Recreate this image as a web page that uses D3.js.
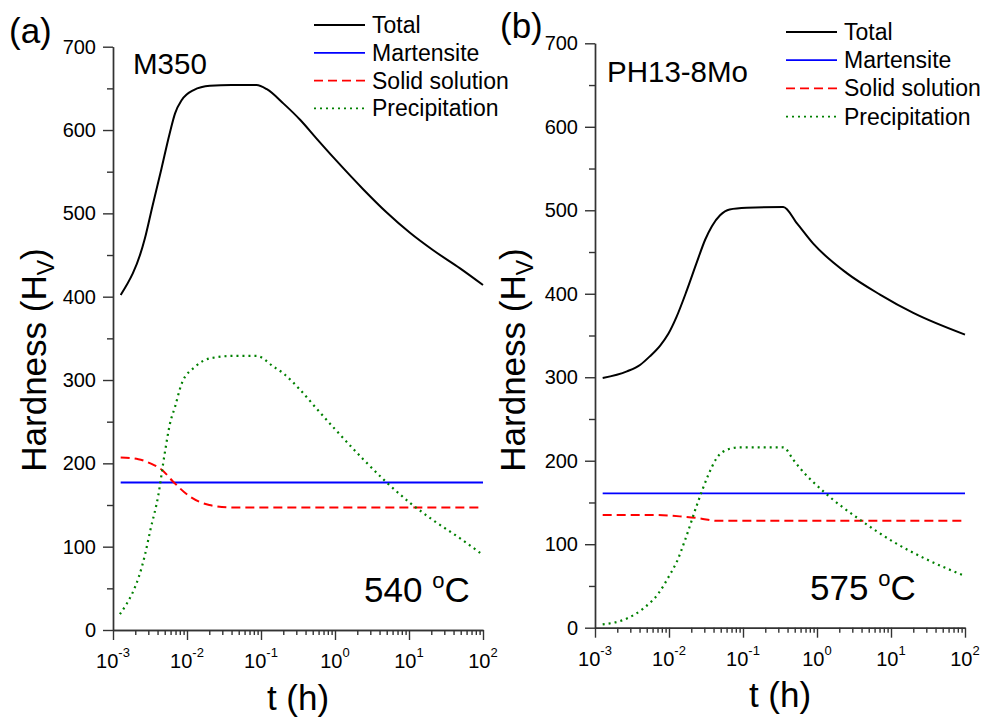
<!DOCTYPE html>
<html>
<head>
<meta charset="utf-8">
<script src="https://cdn.jsdelivr.net/npm/d3@7"></script>
<style>
  body { margin: 0; background: #fff; }
  svg text { font-family: "Liberation Sans", Arial, sans-serif; fill: #000; }
</style>
</head>
<body>
<div id="chart"></div>
<script>
// ---- data (t in hours, hardness in HV) ----
const xDecades = [1e-3, 1e-2, 1e-1, 1e0, 1e1, 1e2];
const xExponents = ["-3", "-2", "-1", "0", "1", "2"];
const yTicks = [0, 100, 200, 300, 400, 500, 600, 700];
const yMinor = [50, 150, 250, 350, 450, 550, 650];
const seriesNames = ["Total", "Martensite", "Solid solution", "Precipitation"];

// panel (a) M350, 540 C
const aTotalT = [0.00127, 0.0027, 0.0034, 0.0045, 0.0058, 0.0069, 0.0085, 0.0123, 0.0204, 0.04, 0.087, 0.12, 0.2, 0.34, 0.56, 1.0, 2.4, 5.0, 10.2, 21, 49, 100];
const aTotalH = [402, 470, 508, 553, 595, 620, 636, 648, 653, 654, 654, 649, 632, 612, 590, 565, 529, 501, 477, 456, 434, 414];
const aMartT = [0.00127, 100];
const aMartH = [177, 177];
const aSolT = [0.00127, 0.0022, 0.0032, 0.0046, 0.0065, 0.011, 0.02, 0.04, 100];
const aSolH = [207, 205, 200, 192, 178, 160, 150, 147, 147];
const aPrecT = [0.00124, 0.0027, 0.0032, 0.0041, 0.005, 0.0059, 0.0069, 0.0085, 0.0129, 0.0204, 0.0427, 0.087, 0.148, 0.2, 0.34, 0.56, 1.0, 2.4, 5.0, 10.2, 21, 49, 100];
const aPrecH = [19, 90, 120, 162, 212, 248, 268, 296, 316, 326, 329, 329, 316, 308, 288, 266, 241, 205, 177, 153, 132, 110, 90];

// panel (b) PH13-8Mo, 575 C
const bTotalT = [0.00127, 0.0027, 0.0041, 0.0055, 0.0076, 0.0098, 0.0126, 0.0174, 0.0234, 0.0309, 0.038, 0.049, 0.066, 0.112, 0.35, 0.54, 0.89, 2.5, 7.1, 20, 100];
const bTotalH = [299, 307, 315, 325, 338, 352, 372, 404, 436, 465, 481, 494, 501, 503, 504, 484, 460, 425, 399, 377, 351];
const bMartT = [0.00127, 100];
const bMartH = [161, 161];
const bSolT = [0.00127, 0.0068, 0.0155, 0.026, 0.044, 100];
const bSolH = [135, 135, 133, 131, 128, 128];
const bPrecT = [0.00127, 0.0027, 0.0045, 0.0072, 0.0102, 0.0126, 0.0174, 0.0234, 0.034, 0.044, 0.06, 0.089, 0.35, 0.48, 0.59, 1.23, 4.0, 10.7, 30, 100];
const bPrecH = [4, 11, 23, 41, 63, 78, 111, 145, 183, 203, 213, 216, 216, 201, 191, 163, 128, 103, 82, 62];

const w = 987, h = 721;
const svg = d3.select("#chart").append("svg").attr("width", w).attr("height", h);

const styles = [
  { color: "#000000", width: 2, dash: null },
  { color: "#0000ff", width: 1.8, dash: null },
  { color: "#ff0000", width: 2, dash: "9,5" },
  { color: "#008000", width: 2.2, dash: "2,4" }
];

const minorTicks = [];
xDecades.slice(0, -1).forEach(d => { for (let k = 2; k <= 9; k++) minorTicks.push(d * k); });

function zip(ts, hs) { return ts.map((t, i) => ({ t: t, v: hs[i] })); }

function drawPanel(p) {
  const x = d3.scaleLog().domain([1e-3, 1e2]).range([p.x0, p.x1]);
  const y = d3.scaleLinear().domain([0, 700]).range([p.y0, p.y1]);
  const g = svg.append("g");

  g.append("g").attr("transform", "translate(0," + p.y0 + ")")
    .call(d3.axisBottom(x).tickValues(xDecades).tickSize(10).tickSizeOuter(0).tickFormat(""));
  g.append("g").attr("transform", "translate(0," + p.y0 + ")")
    .call(d3.axisBottom(x).tickValues(minorTicks).tickSize(5).tickSizeOuter(0).tickFormat(""));
  g.append("g").attr("transform", "translate(" + p.x0 + ",0)")
    .call(d3.axisLeft(y).tickValues(yTicks).tickSize(10).tickSizeOuter(0).tickPadding(7))
    .selectAll("text").style("font-size", "20px");
  g.append("g").attr("transform", "translate(" + p.x0 + ",0)")
    .call(d3.axisLeft(y).tickValues(yMinor).tickSize(6).tickSizeOuter(0).tickFormat(""));
  g.selectAll(".domain, .tick line").attr("stroke", "#333").attr("stroke-width", 1.4);

  // x tick labels 10^n
  xDecades.forEach((d, i) => {
    const t = g.append("text").attr("x", x(d)).attr("y", p.y0 + 38)
      .attr("text-anchor", "middle").style("font-size", "20px");
    t.append("tspan").text("10");
    t.append("tspan").attr("dy", -11).style("font-size", "13px").text(xExponents[i]);
  });

  const line = d3.line().x(d => x(d.t)).y(d => y(d.v)).curve(d3.curveMonotoneX);
  p.series.forEach((s, i) => {
    g.append("path").datum(zip(s[0], s[1]))
      .attr("fill", "none")
      .attr("stroke", styles[i].color)
      .attr("stroke-width", styles[i].width)
      .attr("stroke-dasharray", styles[i].dash)
      .attr("d", line);
  });

  // legend
  seriesNames.forEach((n, i) => {
    const ly = p.legY + i * p.legStep;
    g.append("line").attr("x1", p.legX).attr("x2", p.legX + 51).attr("y1", ly).attr("y2", ly)
      .attr("stroke", styles[i].color).attr("stroke-width", 1.8)
      .attr("stroke-dasharray", styles[i].dash);
    g.append("text").attr("x", p.legX + 58).attr("y", ly).attr("dy", "0.35em")
      .style("font-size", "23px").text(n);
  });

  g.append("text").attr("x", p.tagX).attr("y", p.tagY).style("font-size", "35px").text(p.tag);
  g.append("text").attr("x", p.nameX).attr("y", p.nameY).style("font-size", "29.5px").text(p.name);

  const temp = g.append("text").attr("x", p.tempX).attr("y", p.tempY).style("font-size", "35px");
  temp.append("tspan").text(p.temp + " ");
  temp.append("tspan").attr("dy", -14).style("font-size", "22px").text("o");
  temp.append("tspan").attr("dy", 14).text("C");

  g.append("text").attr("x", (p.x0 + p.x1) / 2).attr("y", p.xTitleY)
    .attr("text-anchor", "middle").style("font-size", "35px").text("t (h)");

  const yt = g.append("text").attr("transform", "translate(" + p.yTitleX + ",360) rotate(-90)")
    .attr("text-anchor", "middle").style("font-size", "35px");
  yt.append("tspan").text("Hardness (H");
  yt.append("tspan").attr("dy", 8).style("font-size", "23px").text("V");
  yt.append("tspan").attr("dy", -8).text(")");
}

drawPanel({
  x0: 113, x1: 483, y0: 630, y1: 46.7,
  series: [[aTotalT, aTotalH], [aMartT, aMartH], [aSolT, aSolH], [aPrecT, aPrecH]],
  legX: 314, legY: 25, legStep: 27.8,
  tag: "(a)", tagX: 9, tagY: 43,
  name: "M350", nameX: 133, nameY: 74,
  temp: "540", tempX: 364, tempY: 602,
  xTitleY: 710, yTitleX: 46
});

drawPanel({
  x0: 595, x1: 965, y0: 627.7, y1: 43.3,
  series: [[bTotalT, bTotalH], [bMartT, bMartH], [bSolT, bSolH], [bPrecT, bPrecH]],
  legX: 786, legY: 32, legStep: 28.2,
  tag: "(b)", tagX: 500, tagY: 38,
  name: "PH13-8Mo", nameX: 607, nameY: 82,
  temp: "575", tempX: 810, tempY: 600,
  xTitleY: 707, yTitleX: 525
});
</script>
</body>
</html>
